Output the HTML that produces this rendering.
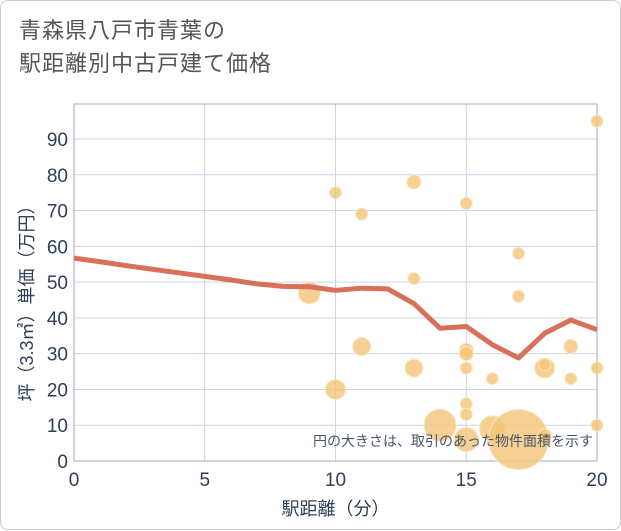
<!DOCTYPE html>
<html><head><meta charset="utf-8"><style>
body{margin:0;background:#fff;font-family:"Liberation Sans","Noto Sans CJK JP",sans-serif}
#wrap{position:absolute;left:0;top:0;width:619px;height:528px;border:1px solid #ccc;border-radius:8px;background:#fff}
#title{position:absolute;left:18px;top:13px;font-size:22px;line-height:33px;color:#555;letter-spacing:1px}
</style></head><body>
<div id="wrap">
<div id="title">青森県八戸市青葉の<br>駅距離別中古戸建て価格</div>
<svg id="chart" width="621" height="530" style="position:absolute;left:0;top:0"></svg>
</div>
<script>
const xTicks=[0,5,10,15,20];
const yTicks=[0,10,20,30,40,50,60,70,80,90];
const lineX=[0,1,2,3,4,5,6,7,8,9,10,11,12,13,14,15,16,17,18,19,20];
const lineY=[56.7,55.7,54.6,53.6,52.6,51.6,50.6,49.5,48.8,48.7,47.7,48.3,48.1,44,37.1,37.6,32.5,28.8,35.7,39.4,36.7];
const bubX=[9,10,10,11,11,13,13,13,14,15,15,15,15,15,15,15,16,16,17,17,17,18,18,18,19,19,20,20,20];
const bubY=[47,75,20,69,32,78,51,26,10,72,31,30,26,16,13,6,23,9,58,46,6,26,27,7,32,23,95,26,10];
const bubR=[11,6,10,6,9,7,6,9,16,6,7,7,6,6,6,12,6,13,6,6,30,10,6,7,7,6,6,6,6];
const svg=document.getElementById('chart');const NS='http://www.w3.org/2000/svg';
const L=73,R=596,T=103,B=460;
const xs=v=>L+(R-L)*v/20, ys=v=>B-(B-138)*v/90;
function mk(t,a,p){const e=document.createElementNS(NS,t);for(const k in a)e.setAttribute(k,a[k]);(p||svg).appendChild(e);return e;}
const grid=mk('g',{});
yTicks.forEach(v=>{const l=mk('line',{x1:L,x2:R,y1:ys(v),y2:ys(v),stroke:'#c9d6e3','stroke-width':1},grid);
const t=mk('text',{x:L-6,y:ys(v)+7,'text-anchor':'end','font-size':19,fill:'#2d4059'});t.textContent=v;});
xTicks.forEach(v=>{if(v>0&&v<20){const l=mk('line',{x1:xs(v),x2:xs(v),y1:T,y2:B,stroke:'#c9d6e3','stroke-width':1},grid);}
const t=mk('text',{x:xs(v),y:B+25,'text-anchor':'middle','font-size':19,fill:'#2d4059'});t.textContent=v;});
const fr=mk('rect',{x:L,y:T,width:R-L,height:B-T,fill:'none',stroke:'#aab','stroke-width':1});
bubX.forEach((x,i)=>{const c=mk('circle',{cx:xs(x),cy:ys(bubY[i]),r:bubR[i],fill:'rgba(244,196,120,0.8)',stroke:'#fbe6c4','stroke-width':1});});
const p=mk('polyline',{points:lineX.map((x,i)=>xs(x)+','+ys(lineY[i])).join(' '),fill:'none',stroke:'#d9705a','stroke-width':5,'stroke-linejoin':'round'});
const note=mk('text',{x:592,y:445,'text-anchor':'end','font-size':14,fill:'#4a5568'});note.textContent='円の大きさは、取引のあった物件面積を示す';
const xt=mk('text',{x:(L+R)/2,y:514,'text-anchor':'middle','font-size':18,fill:'#2d4059'});xt.textContent='駅距離（分）';
const yt=mk('text',{x:0,y:0,'text-anchor':'middle','font-size':18,fill:'#2d4059',transform:'translate(32,298) rotate(-90)'});yt.textContent='坪（3.3㎡）単価（万円）';
</script></body></html>
